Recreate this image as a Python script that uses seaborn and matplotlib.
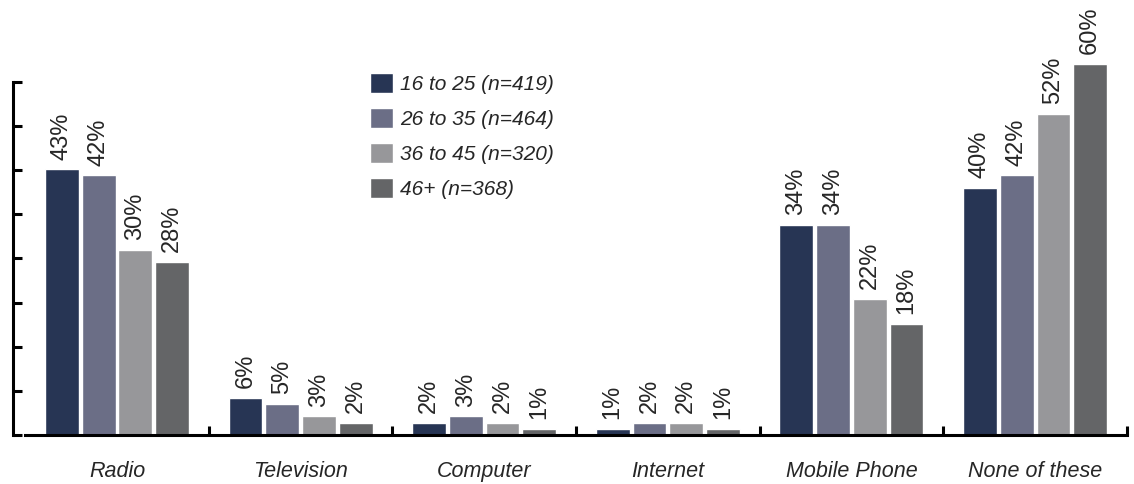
import numpy as np
import pandas as pd
import seaborn as sns
import matplotlib.pyplot as plt

# survey data (percent of respondents per age group)
categories = ["Radio", "Television", "Computer", "Internet", "Mobile Phone", "None of these"]
age_groups = ["16 to 25 (n=419)", "26 to 35 (n=464)", "36 to 45 (n=320)", "46+ (n=368)"]
age_16_25 = [43, 6, 2, 1, 34, 40]
age_26_35 = [42, 5, 3, 2, 34, 42]
age_36_45 = [30, 3, 2, 2, 22, 52]
age_46_up = [28, 2, 1, 1, 18, 60]

colors = ["#1f325b", "#676a8a", "#96979b", "#646567"]

rows = []
for grp, vals in zip(age_groups, [age_16_25, age_26_35, age_36_45, age_46_up]):
    for cat, v in zip(categories, vals):
        rows.append({"medium": cat, "pct": v, "age": grp})
df = pd.DataFrame(rows)

sns.set_style("white")
plt.rcParams['font.family'] = ['Liberation Sans', 'DejaVu Sans']

fig = plt.figure(figsize=(11.34, 4.84), dpi=100)
ax = fig.add_axes([0.0222, 0.1012, 0.9715, 0.8938])

sns.barplot(data=df, x="medium", y="pct", hue="age", palette=colors,
            width=0.8, gap=0.08, ax=ax)

for cont in ax.containers:
    ax.bar_label(cont, labels=[f"{v:.0f}%" for v in cont.datavalues],
                 rotation=90, padding=7, fontsize=17)

ax.set_ylim(0, 70)
ax.set_xlim(-0.5, 5.5)

# spines
for s in ["top", "right"]:
    ax.spines[s].set_visible(False)
ax.spines["left"].set_position(("outward", 8.6))
ax.spines["left"].set_bounds(0, 400 / 7)
ax.spines["left"].set_linewidth(2.2)
ax.spines["bottom"].set_linewidth(2.2)
ax.spines["left"].set_color("black")
ax.spines["bottom"].set_color("black")

ax.set_yticks(np.linspace(0, 400 / 7, 9))
ax.set_yticklabels([])
ax.tick_params(axis="y", direction="in", length=6.5, width=2.2, color="black", left=True)

ax.set_xticks(range(len(categories)))
ax.set_xticklabels(categories, fontsize=15.5, style="italic")
ax.set_xticks(np.arange(0.5, 6, 1), minor=True)
ax.tick_params(axis="x", which="major", length=0, pad=19)
ax.tick_params(axis="x", which="minor", direction="in", length=6.5, width=2.2,
               color="black", bottom=True)
ax.set_xlabel("")
ax.set_ylabel("")

handles, labels = ax.get_legend_handles_labels()
ax.legend(handles, labels, loc="upper left", bbox_to_anchor=(370 / 1134, 1 - 73 / 484),
          bbox_transform=fig.transFigure, frameon=False, borderpad=0,
          prop={"size": 15, "style": "italic"}, handlelength=1.1, handleheight=1.1,
          handletextpad=0.35, labelspacing=0.66, borderaxespad=0)

fig.savefig("out.png", dpi=100)
